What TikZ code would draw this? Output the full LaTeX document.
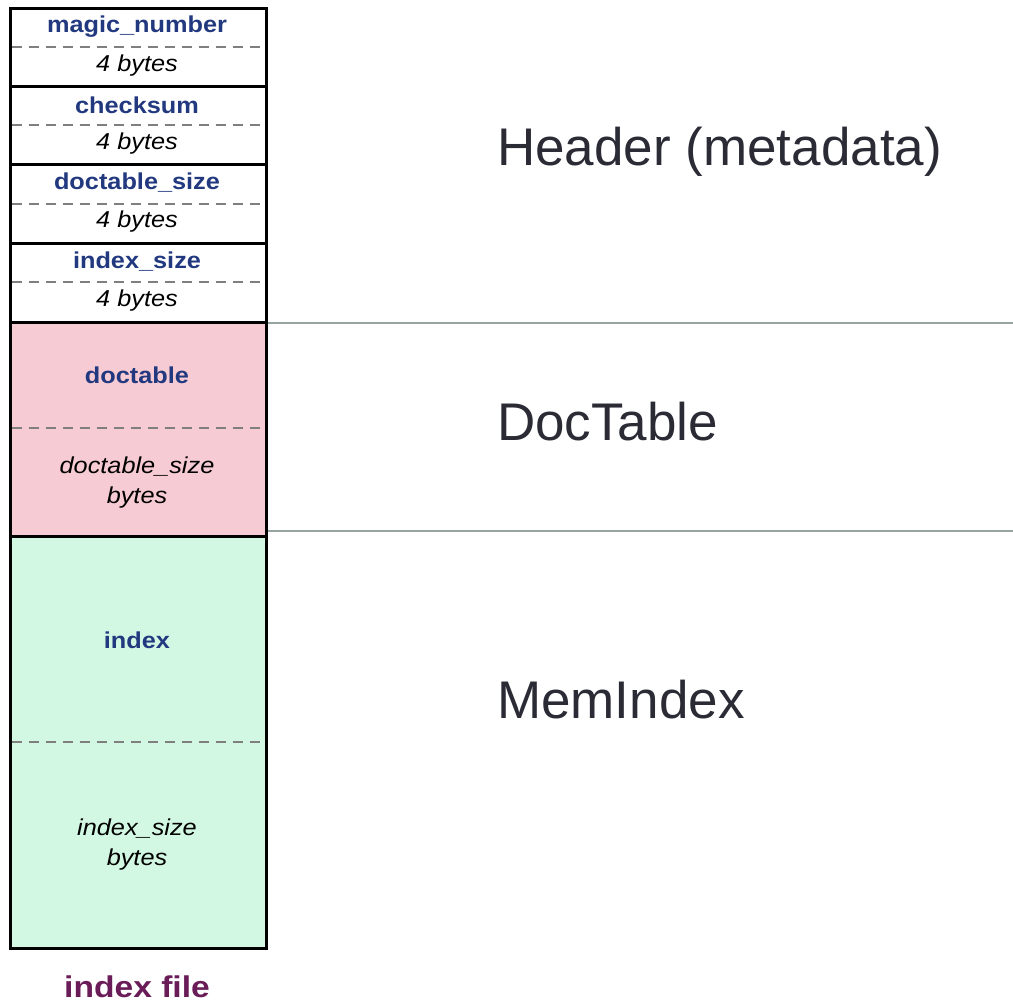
\documentclass[tikz,border=0pt]{standalone}
\usepackage{fontspec}
\setmainfont{Liberation Sans}
\newfontfamily\cellfont[FakeStretch=1.1]{Liberation Sans}
\newfontfamily\capfont[FakeStretch=1.12]{Liberation Sans}
\definecolor{fieldblue}{HTML}{22397F}
\definecolor{captionpurple}{HTML}{6A1C58}
\definecolor{docpink}{HTML}{F7CBD3}
\definecolor{idxgreen}{HTML}{D2F8E3}
\definecolor{dashgray}{HTML}{7F7F7F}
\definecolor{rulegray}{HTML}{96A39E}
\definecolor{bigtext}{HTML}{2B2B36}
\tikzset{
  cellbox/.style={draw=black, line width=3pt},
  split/.style={draw=dashgray, line width=1.6pt, dash pattern=on 10pt off 7pt},
  divider/.style={draw=rulegray, line width=1.6pt},
  fieldname/.style={font=\cellfont\bfseries\fontsize{23}{27}\selectfont, text=fieldblue, inner sep=0pt, align=center},
  fieldsize/.style={font=\cellfont\itshape\fontsize{23}{30}\selectfont, text=black, inner sep=0pt, align=center},
  section/.style={font=\fontsize{53}{60}\selectfont, text=bigtext, inner sep=0pt, anchor=base west},
}
\begin{document}
\begin{tikzpicture}[x=1pt, y=-1pt]
  \useasboundingbox (0,0) rectangle (1013,1004);

  % section dividers on the right
  \draw[divider] (266,323) -- (1013,323);
  \draw[divider] (266,531) -- (1013,531);

  % header fields
  \draw[cellbox] (10,8) rectangle (266,86);
  \draw[cellbox] (10,86) rectangle (266,164);
  \draw[cellbox] (10,164) rectangle (266,243);
  \draw[cellbox] (10,243) rectangle (266,322);
  % doctable and index blocks
  \draw[cellbox, fill=docpink] (10,322) rectangle (266,536);
  \draw[cellbox, fill=idxgreen] (10,536) rectangle (266,948);

  % dashed splits between field name and size
  \foreach \yy in {47,125,204,282,428,742}
    \draw[split] (11.5,\yy) -- (264.5,\yy);

  % field labels
  \node[fieldname] (magic) at (137,27) {magic\_number};
  \node[fieldsize] (magicsz) at (137,66) {4 bytes};
  \node[fieldname] (check) at (137,105) {checksum};
  \node[fieldsize] (checksz) at (137,144) {4 bytes};
  \node[fieldname] (dtsize) at (137,183) {doctable\_size};
  \node[fieldsize] (dtsizesz) at (137,222) {4 bytes};
  \node[fieldname] (ixsize) at (137,262) {index\_size};
  \node[fieldsize] (ixsizesz) at (137,301) {4 bytes};
  \node[fieldname] (doctable) at (137,375) {doctable};
  \node[fieldsize] (doctablesz) at (137,483) {doctable\_size\\bytes};
  \node[fieldname] (index) at (137,640) {index};
  \node[fieldsize] (indexsz) at (137,845) {index\_size\\bytes};

  % caption below the file
  \node[font=\capfont\bfseries\fontsize{30}{36}\selectfont, text=captionpurple, inner sep=0pt] (caption) at (137,987) {index file};

  % section names
  \node[section] (hdr) at (497,165) {Header (metadata)};
  \node[section] (dt) at (497,440) {DocTable};
  \node[section] (mi) at (497,718) {MemIndex};
\end{tikzpicture}
\end{document}
